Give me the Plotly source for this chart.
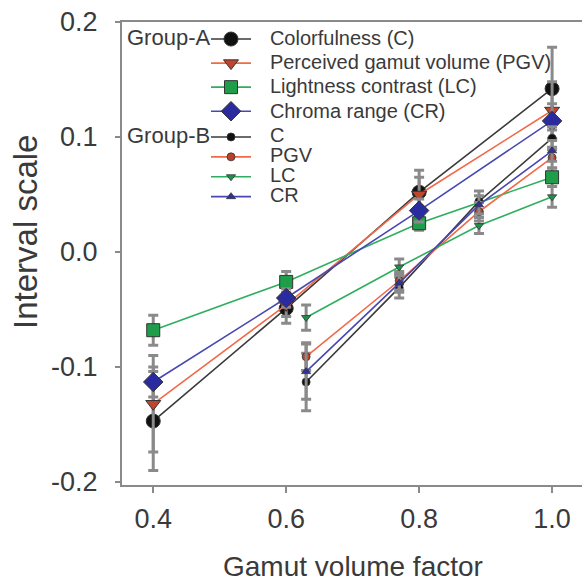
import plotly.graph_objects as go

# ---- data ----
x_a = [0.4, 0.6, 0.8, 1.0]
x_b = [0.63, 0.77, 0.89, 1.0]

names_a = ["Colorfulness (C)", "Perceived gamut volume (PGV)", "Lightness contrast (LC)", "Chroma range (CR)"]
names_b = ["C", "PGV", "LC", "CR"]

a_C = [-0.147, -0.049, 0.052, 0.142]
a_C_err = [0.043, 0.013, 0.019, 0.036]
a_PGV = [-0.132, -0.046, 0.050, 0.123]
a_PGV_err = [0.042, 0.010, 0.015, 0.025]
a_LC = [-0.068, -0.026, 0.025, 0.065]
a_LC_err = [0.013, 0.009, 0.006, 0.008]
a_CR = [-0.113, -0.040, 0.036, 0.114]
a_CR_err = [0.013, 0.008, 0.010, 0.015]

b_C = [-0.113, -0.031, 0.044, 0.099]
b_C_err = [0.025, 0.009, 0.009, 0.010]
b_PGV = [-0.091, -0.025, 0.035, 0.082]
b_PGV_err = [0.012, 0.008, 0.008, 0.009]
b_LC = [-0.057, -0.013, 0.023, 0.048]
b_LC_err = [0.011, 0.007, 0.007, 0.009]
b_CR = [-0.104, -0.027, 0.041, 0.088]
b_CR_err = [0.024, 0.008, 0.008, 0.009]

y_ticks = [-0.2, -0.1, 0.0, 0.1, 0.2]
y_ticktext = ["-0.2", "-0.1", "0.0", "0.1", "0.2"]
x_ticks = [0.4, 0.6, 0.8, 1.0]
x_ticktext = ["0.4", "0.6", "0.8", "1.0"]

# ---- styles ----
line_cols = ["#3a3a3a", "#f06a48", "#2fae5e", "#4848b0"]
a_marker_cols = ["#111111", "#c0452e", "#1f9e4a", "#2b2ba0"]
a_symbols = ["circle", "triangle-down", "square", "diamond"]
a_sizes = [14, 13, 13, 15]
b_marker_cols = ["#111111", "#b8412c", "#1f9048", "#3030a0"]
b_symbols = ["circle", "circle", "triangle-down", "triangle-up"]
b_sizes = [8, 8, 8, 8]
ERR_COL = "#8a8a8a"
TXT = "#3a3a3a"

fig = go.Figure()

series_a = [(a_C, a_C_err), (a_PGV, a_PGV_err), (a_LC, a_LC_err), (a_CR, a_CR_err)]
series_b = [(b_C, b_C_err), (b_PGV, b_PGV_err), (b_LC, b_LC_err), (b_CR, b_CR_err)]

def label(t):
    return ('<span style="font-size:25px">&nbsp;&nbsp;</span>'
            '<span style="font-size:20px">' + t + '</span>')

for i, (vals, errs) in enumerate(series_a):
    fig.add_trace(go.Scatter(
        x=x_a, y=vals, mode="lines+markers", name=label(names_a[i]), legend="legend",
        line=dict(color=line_cols[i], width=1.6),
        marker=dict(symbol=a_symbols[i], size=a_sizes[i], color=a_marker_cols[i],
                    line=dict(color="#333333", width=1)),
        error_y=dict(type="data", array=errs, color=ERR_COL, thickness=3, width=5),
    ))

for i, (vals, errs) in enumerate(series_b):
    fig.add_trace(go.Scatter(
        x=x_b, y=vals, mode="lines+markers", name=label(names_b[i]), legend="legend2",
        line=dict(color=line_cols[i], width=1.6),
        marker=dict(symbol=b_symbols[i], size=b_sizes[i], color=b_marker_cols[i],
                    line=dict(color="#333333", width=0.8)),
        error_y=dict(type="data", array=errs, color=ERR_COL, thickness=3, width=5),
    ))

W, H = 582, 583
L, R, T, B = 122, 0, 22, 98
pw, ph = W - L - R, H - T - B

def px_x(p):
    return (p - L) / pw

def px_y(p):
    return 1 - (p - T) / ph

fig.update_layout(
    width=W, height=H,
    margin=dict(l=L, r=R, t=T, b=B),
    paper_bgcolor="white", plot_bgcolor="white",
    font=dict(family="Liberation Sans, Arial, sans-serif", color=TXT),
    legend=dict(x=px_x(206), y=px_y(22), xanchor="left", yanchor="top",
                font=dict(size=16.2, color=TXT), bgcolor="rgba(0,0,0,0)",
                itemwidth=40, tracegroupgap=0),
    legend2=dict(x=px_x(206), y=px_y(122), xanchor="left", yanchor="top",
                 font=dict(size=13, color=TXT), bgcolor="rgba(0,0,0,0)",
                 itemwidth=40, tracegroupgap=0),
    xaxis=dict(range=[0.353, 1.045], tickvals=x_ticks, ticktext=x_ticktext,
               showline=True, linecolor=ERR_COL, linewidth=2, mirror=True,
               ticks="outside", ticklen=6, tickwidth=2, tickcolor=ERR_COL,
               showgrid=False, zeroline=False, tickfont=dict(size=27, color=TXT),
               ticklabelstandoff=3),
    yaxis=dict(range=[-0.2026, 0.2], tickvals=y_ticks, ticktext=y_ticktext,
               showline=True, linecolor=ERR_COL, linewidth=2,
               ticks="outside", ticklen=5, tickwidth=2, tickcolor=ERR_COL,
               showgrid=False, zeroline=False, tickfont=dict(size=27, color=TXT),
               ticklabelstandoff=12),
    annotations=[
        dict(text="Group-A", xref="paper", yref="paper", x=px_x(212), y=px_y(38),
             xanchor="right", yanchor="middle", showarrow=False, font=dict(size=22, color=TXT)),
        dict(text="Group-B", xref="paper", yref="paper", x=px_x(212), y=px_y(135),
             xanchor="right", yanchor="middle", showarrow=False, font=dict(size=22, color=TXT)),
        dict(text="Interval scale", xref="paper", yref="paper", x=px_x(25), y=px_y(232),
             xanchor="center", yanchor="middle", textangle=-90, showarrow=False,
             font=dict(size=33, color=TXT)),
        dict(text="Gamut volume factor", xref="paper", yref="paper", x=px_x(353), y=px_y(566),
             xanchor="center", yanchor="middle", showarrow=False, font=dict(size=28, color=TXT)),
    ],
)

fig.write_html("out.html")
